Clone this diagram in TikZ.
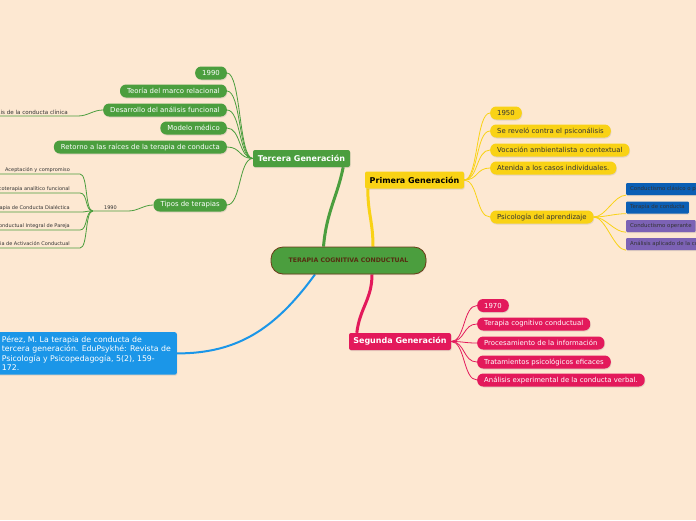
\documentclass[tikz,border=0pt]{standalone}
\usepackage{fontspec}
\setmainfont{DejaVu Sans}
\usetikzlibrary{shadows}
\definecolor{fondo}{HTML}{FDE8D2}
\definecolor{verde}{HTML}{4B9E3E}
\definecolor{amarillo}{HTML}{F9D215}
\definecolor{rosa}{HTML}{E3195B}
\definecolor{azul}{HTML}{1B96E8}
\definecolor{azulosc}{HTML}{0B5FB5}
\definecolor{morado}{HTML}{7C62B5}
\definecolor{marron}{HTML}{6B3A17}
\definecolor{texto}{HTML}{333333}
\pgfdeclarelayer{capafondo}
\pgfdeclarelayer{lineas}
\pgfsetlayers{capafondo,lineas,main}
\tikzset{
  sombra/.style={drop shadow={opacity=0.2, shadow xshift=0.6pt, shadow yshift=-1pt}},
  gen/.style={rounded corners=2pt, inner xsep=0pt, inner ysep=0pt, minimum height=17pt, font=\fontsize{8}{9}\selectfont\bfseries, sombra},
  hoja/.style={rounded corners=6pt, inner xsep=7pt, inner ysep=0pt, minimum height=13pt, font=\fontsize{6.9}{8}\selectfont, sombra},
  hverde/.style={hoja, fill=verde, text=white},
  hamarilla/.style={hoja, fill=amarillo, text=texto},
  hrosa/.style={hoja, fill=rosa, text=white},
  caja/.style={rounded corners=1pt, inner xsep=4pt, inner ysep=0pt, minimum height=12pt, font=\fontsize{5.4}{6}\selectfont, text=texto, sombra},
  ramita/.style={inner ysep=1.5pt, font=\fontsize{5}{6}\selectfont, text=texto},
  lverde/.style={draw=verde, line width=0.8pt},
  lamarilla/.style={draw=amarillo, line width=0.8pt},
  lrosa/.style={draw=rosa, line width=0.8pt},
}
\begin{document}
\begin{tikzpicture}[x=1pt, y=-1pt]
  \begin{pgfonlayer}{capafondo}
    \fill[fondo] (0,0) rectangle (696,520);
  \end{pgfonlayer}
  \useasboundingbox (0,0) rectangle (696,520);

  % centro
  \node[rounded corners=12pt, fill=verde, draw=marron, line width=0.8pt, minimum width=155pt, minimum height=27pt, font=\fontsize{6.2}{7}\selectfont\bfseries, text=marron!80!black, sombra] (raiz) at (348.5,260.5) {TERAPIA COGNITIVA CONDUCTUAL};

  % generaciones
  \node[gen, fill=verde, text=white, minimum width=97pt] (tercera) at (301.5,158.5) {Tercera Generación};
  \node[gen, fill=amarillo, text=black, minimum width=99pt] (primera) at (414.5,180) {Primera Generación};
  \node[gen, fill=rosa, text=white, minimum width=102pt] (segunda) at (400,341.5) {Segunda Generación};
  \node[rounded corners=2pt, fill=azul, text=white, anchor=north east, align=left, inner xsep=6pt, inner ysep=4pt, font=\fontsize{7.8}{9.4}\selectfont, sombra] (ref) at (177,332) {Pérez, M. La terapia de conducta de\\tercera generación. EduPsykhé: Revista de\\Psicología y Psicopedagogía, 5(2), 159-\\172.};

  % tercera generacion
  \node[hverde, anchor=east] (t1990) at (227,73) {1990};
  \node[hverde, anchor=east] (tteoria) at (227,91) {Teoría del marco relacional};
  \node[hverde, anchor=east] (tdesarrollo) at (227,110) {Desarrollo del análisis funcional};
  \node[hverde, anchor=east] (tmodelo) at (227,128) {Modelo médico};
  \node[hverde, anchor=east] (tretorno) at (227,147) {Retorno a las raíces de la terapia de conducta};
  \node[hverde, anchor=east] (ttipos) at (227,205) {Tipos de terapias};

  \node[ramita, anchor=south east, inner xsep=10pt, font=\fontsize{5.6}{6}\selectfont] (clinica) at (78,116) {Análisis de la conducta clínica};
  \node[ramita, anchor=south, minimum width=35pt] (tipos1990) at (110.5,211) {1990};
  \node[ramita, anchor=south east, inner xsep=10pt] (aceptacion) at (80,174) {Aceptación y compromiso};
  \node[ramita, anchor=south east, inner xsep=10pt] (psicoterapia) at (80,193) {Psicoterapia analítico funcional};
  \node[ramita, anchor=south east, inner xsep=10pt] (dialectica) at (80,212) {Terapia de Conducta Dialéctica};
  \node[ramita, anchor=south east, inner xsep=10pt] (pareja) at (80,230) {Terapia Conductual Integral de Pareja};
  \node[ramita, anchor=south east, inner xsep=10pt] (activacion) at (80,248) {Terapia de Activación Conductual};

  % primera generacion
  \node[hamarilla, anchor=west] (p1950) at (490,113) {1950};
  \node[hamarilla, anchor=west] (prevelo) at (490,131) {Se reveló contra el psiconálisis};
  \node[hamarilla, anchor=west] (pvocacion) at (490,150) {Vocación ambientalista o contextual};
  \node[hamarilla, anchor=west] (patenida) at (490,168) {Atenida a los casos individuales.};
  \node[hamarilla, anchor=west] (pscologia) at (490,217) {Psicología del aprendizaje};

  \node[caja, fill=azulosc, anchor=west] (clasico) at (626,189) {Conductismo clásico o pavloviano};
  \node[caja, fill=azulosc, anchor=west] (terapiacond) at (626,207.5) {Terapia de conducta};
  \node[caja, fill=morado, anchor=west] (operante) at (626,226) {Conductismo operante};
  \node[caja, fill=morado, anchor=west] (aplicado) at (626,244) {Análisis aplicado de la conducta};

  % segunda generacion
  \node[hrosa, anchor=west] (s1970) at (477,305.5) {1970};
  \node[hrosa, anchor=west] (scognitivo) at (477,324) {Terapia cognitivo conductual};
  \node[hrosa, anchor=west] (sprocesamiento) at (477,343) {Procesamiento de la información};
  \node[hrosa, anchor=west] (stratamientos) at (477,362) {Tratamientos psicológicos eficaces};
  \node[hrosa, anchor=west] (sanalisis) at (477,380) {Análisis experimental de la conducta verbal.};

  \begin{pgfonlayer}{lineas}
    % ramas gruesas
    \draw[verde, line width=3pt] ([xshift=-25pt]raiz.north) .. controls +(3,-35) and +(-6,30) .. ([xshift=-7pt]tercera.south east);
    \draw[amarillo, line width=3pt] ([xshift=24.5pt]raiz.north) .. controls +(0,-25) and +(0,25) .. ([xshift=3pt]primera.south west);
    \draw[rosa, line width=3pt] ([xshift=23.5pt]raiz.south) .. controls +(0,25) and +(3,-25) .. ([xshift=8pt]segunda.north west);
    \draw[azul, line width=2pt] ([xshift=-33.5pt]raiz.south) .. controls +(-40,55) and +(60,0) .. (ref.east);

    % tercera
    \draw[lverde] (tercera.west) .. controls +(-14,0) and +(14,0) .. (t1990.east);
    \draw[lverde] (tercera.west) .. controls +(-14,0) and +(14,0) .. (tteoria.east);
    \draw[lverde] (tercera.west) .. controls +(-14,0) and +(14,0) .. (tdesarrollo.east);
    \draw[lverde] (tercera.west) .. controls +(-14,0) and +(14,0) .. (tmodelo.east);
    \draw[lverde] (tercera.west) .. controls +(-14,0) and +(14,0) .. (tretorno.east);
    \draw[lverde] (tercera.west) .. controls +(-14,0) and +(14,0) .. (ttipos.east);
    \draw[lverde] (tdesarrollo.west) .. controls +(-10,0) and +(10,0) .. (clinica.south east) -- (clinica.south west);
    \draw[lverde] (ttipos.west) .. controls +(-10,0) and +(10,0) .. (tipos1990.south east) -- (tipos1990.south west);
    \draw[lverde] (tipos1990.south west) .. controls +(-8,0) and +(8,0) .. (aceptacion.south east) -- (aceptacion.south west);
    \draw[lverde] (tipos1990.south west) .. controls +(-8,0) and +(8,0) .. (psicoterapia.south east) -- (psicoterapia.south west);
    \draw[lverde] (tipos1990.south west) .. controls +(-8,0) and +(8,0) .. (dialectica.south east) -- (dialectica.south west);
    \draw[lverde] (tipos1990.south west) .. controls +(-8,0) and +(8,0) .. (pareja.south east) -- (pareja.south west);
    \draw[lverde] (tipos1990.south west) .. controls +(-8,0) and +(8,0) .. (activacion.south east) -- (activacion.south west);

    % primera
    \draw[lamarilla] (primera.east) .. controls +(14,0) and +(-14,0) .. (p1950.west);
    \draw[lamarilla] (primera.east) .. controls +(14,0) and +(-14,0) .. (prevelo.west);
    \draw[lamarilla] (primera.east) .. controls +(14,0) and +(-14,0) .. (pvocacion.west);
    \draw[lamarilla] (primera.east) .. controls +(14,0) and +(-14,0) .. (patenida.west);
    \draw[lamarilla] (primera.east) .. controls +(14,0) and +(-14,0) .. (pscologia.west);
    \draw[lamarilla] (pscologia.east) .. controls +(12,0) and +(-12,0) .. (clasico.south west);
    \draw[lamarilla] (pscologia.east) .. controls +(12,0) and +(-12,0) .. (terapiacond.south west);
    \draw[lamarilla] (pscologia.east) .. controls +(12,0) and +(-12,0) .. (operante.south west);
    \draw[lamarilla] (pscologia.east) .. controls +(12,0) and +(-12,0) .. (aplicado.south west);

    % segunda
    \draw[lrosa] (segunda.east) .. controls +(14,0) and +(-14,0) .. (s1970.west);
    \draw[lrosa] (segunda.east) .. controls +(14,0) and +(-14,0) .. (scognitivo.west);
    \draw[lrosa] (segunda.east) .. controls +(14,0) and +(-14,0) .. (sprocesamiento.west);
    \draw[lrosa] (segunda.east) .. controls +(14,0) and +(-14,0) .. (stratamientos.west);
    \draw[lrosa] (segunda.east) .. controls +(14,0) and +(-14,0) .. (sanalisis.west);
  \end{pgfonlayer}
\end{tikzpicture}
\end{document}
